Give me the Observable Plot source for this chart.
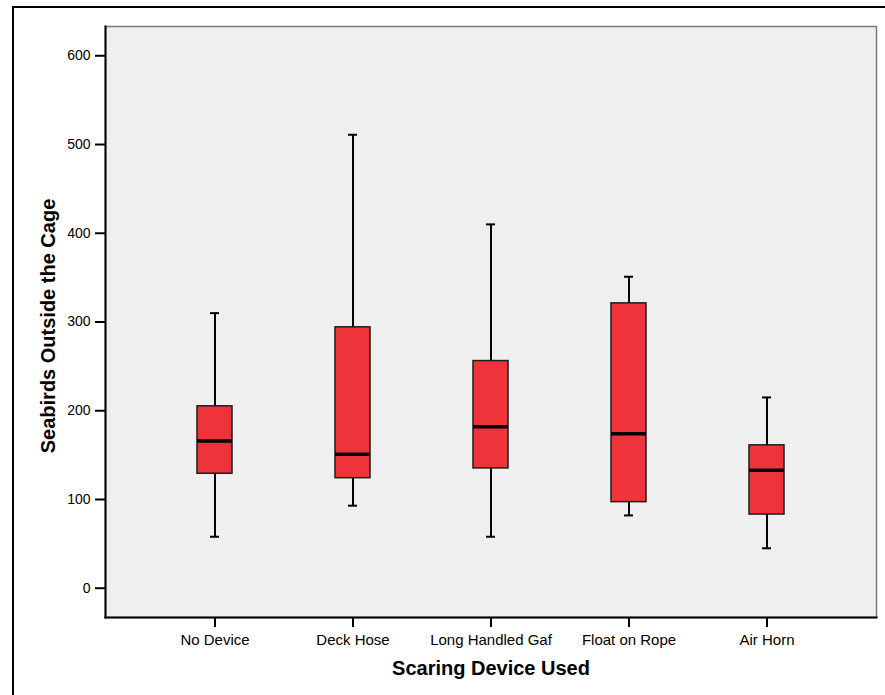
<!DOCTYPE html>
<html>
<head>
<meta charset="utf-8">
<script src="https://cdn.jsdelivr.net/npm/d3@7"></script>
<script src="https://cdn.jsdelivr.net/npm/@observablehq/plot@0.6"></script>
<style>
  html, body { margin: 0; padding: 0; background: #fff; }
  #wrap { position: relative; width: 885px; height: 695px; overflow: hidden; }
  #border { position: absolute; left: 12px; top: 6px; width: 900px; height: 720px;
            border-left: 2px solid #000; border-top: 2.5px solid #000; box-sizing: border-box; }
  #chart { position: absolute; left: 0; top: 0; }
</style>
</head>
<body>
<div id="wrap"><div id="border"></div><div id="chart"></div></div>
<script>
const devices = ["No Device", "Deck Hose", "Long Handled Gaf", "Float on Rope", "Air Horn"];
const whiskerLow  = [58, 93, 58, 82, 45];
const q1          = [129, 124, 135, 97, 83];
const median      = [166, 151, 182, 174, 133];
const q3          = [205, 294, 256, 321, 161];
const whiskerHigh = [310, 511, 410, 351, 215];
const yTicks = [0, 100, 200, 300, 400, 500, 600];
const xTitle = "Scaring Device Used";
const yTitle = "Seabirds Outside the Cage";

const data = devices.map((d, i) => ({
  device: d, lo: whiskerLow[i], q1: q1[i], med: median[i], q3: q3[i], hi: whiskerHigh[i]
}));

const font = "'Liberation Sans', Arial, Helvetica, sans-serif";

const chart = Plot.plot({
  width: 885,
  height: 695,
  marginLeft: 105,
  marginTop: 26,
  marginRight: 9,
  marginBottom: 78,
  style: { fontFamily: font, background: "transparent", color: "#000" },
  x: { type: "band", domain: devices, paddingInner: 0.748, paddingOuter: 0.652 },
  y: { domain: [-33, 633] },
  marks: [
    Plot.frame({ fill: "#efefef", stroke: "#7a7a7a", strokeWidth: 1.5 }),
    Plot.frame({ anchor: "left", stroke: "#000", strokeWidth: 2 }),
    Plot.frame({ anchor: "bottom", stroke: "#000", strokeWidth: 2 }),
    Plot.ruleX(data, { x: "device", y1: "lo", y2: "hi", stroke: "#000", strokeWidth: 2 }),
    Plot.tickY(data, { x: "device", y: "lo", stroke: "#000", strokeWidth: 2, insetLeft: 13, insetRight: 13 }),
    Plot.tickY(data, { x: "device", y: "hi", stroke: "#000", strokeWidth: 2, insetLeft: 13, insetRight: 13 }),
    Plot.barY(data, { x: "device", y1: "q1", y2: "q3", fill: "#ef333a", stroke: "#1e1e1e", strokeWidth: 1.5 }),
    Plot.tickY(data, { x: "device", y: "med", stroke: "#000", strokeWidth: 3.5 }),
    Plot.axisY({ ticks: yTicks, tickSize: 10, tickPadding: 5, stroke: "#000", strokeWidth: 2,
                 fontSize: 14, label: null, fill: "#000" }),
    Plot.axisX({ tickSize: 10, tickPadding: 7, stroke: "#000", strokeWidth: 2,
                 fontSize: 15, label: null, fill: "#000" }),
    Plot.text([xTitle], { frameAnchor: "bottom", dy: 51, text: d => d, fontWeight: "bold",
                          fontSize: 20, fill: "#000", lineAnchor: "middle", textAnchor: "middle" }),
    Plot.text([yTitle], { frameAnchor: "left", dx: -57, dy: 4, rotate: -90, text: d => d,
                          fontWeight: "bold", fontSize: 20, fill: "#000", lineAnchor: "middle",
                          textAnchor: "middle" })
  ]
});
document.getElementById("chart").appendChild(chart);
</script>
</body>
</html>
